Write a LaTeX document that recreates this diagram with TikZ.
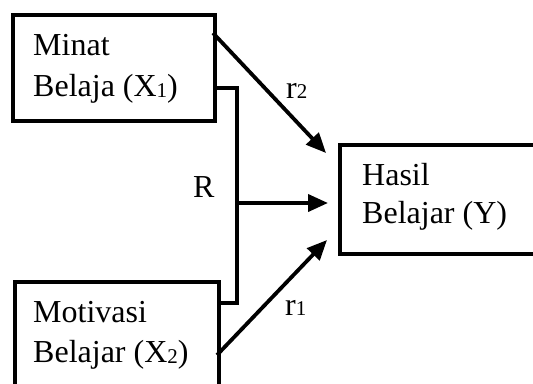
\documentclass[tikz,border=0pt]{standalone}
\usepackage{fontspec}
\setmainfont{Liberation Serif}
\usetikzlibrary{arrows.meta}

\newcommand{\lowidx}[1]{\raisebox{-1.5bp}{\fontsize{21bp}{21bp}\selectfont #1}}
\newcommand{\sideidx}[1]{{\fontsize{21bp}{21bp}\selectfont #1}}

\begin{document}
\begin{tikzpicture}[x=1bp, y=-1bp,
  box/.style={draw, line width=3.8bp, inner sep=0pt, anchor=north west},
  lbl/.style={anchor=base west, inner sep=0pt, font=\fontsize{32bp}{40bp}\selectfont},
  link/.style={line width=3.8bp},
  arr/.style={line width=3.8bp, -{Triangle[length=20bp, width=17bp]}}]
  \useasboundingbox (0,0) rectangle (533,383);

  % boxes (two of them run past the page edge)
  \node[box, minimum width=202bp, minimum height=106bp] (x1) at (11,13) {};
  \node[box, minimum width=204bp, minimum height=140bp] (x2) at (13,280) {};
  \node[box, minimum width=210bp, minimum height=109bp] (y) at (338,143) {};

  % box texts
  \node[lbl] (t1a) at (33,55) {Minat};
  \node[lbl] (t1b) at (33,96) {Belaja (X\lowidx{1})};
  \node[lbl] (t2a) at (33,322) {Motivasi};
  \node[lbl] (t2b) at (33,362) {Belajar (X\lowidx{2})};
  \node[lbl] (tya) at (362,185) {Hasil};
  \node[lbl] (tyb) at (362,223) {Belajar (Y)};

  % joint path from both predictors
  \coordinate (j1) at (237,88);
  \coordinate (j2) at (237,303);
  \coordinate (jm) at (237,203);
  \draw[link] (x1.east |- j1) -- (j1) -- (j2) -- (x2.east |- j2);
  \draw[arr, shorten >=10bp] (jm) -- (y.west |- jm);

  % single paths
  \coordinate (s1) at (213,33);
  \coordinate (e1) at (326,153);
  \coordinate (s2) at (217,355);
  \coordinate (e2) at (327,240);
  \draw[arr] (s1) -- (e1);
  \draw[arr] (s2) -- (e2);

  % path labels
  \node[lbl] (r2) at (286,98) {r\sideidx{2}};
  \node[lbl] (rr) at (193,197) {R};
  \node[lbl] (r1) at (285,315) {r\sideidx{1}};
\end{tikzpicture}
\end{document}
